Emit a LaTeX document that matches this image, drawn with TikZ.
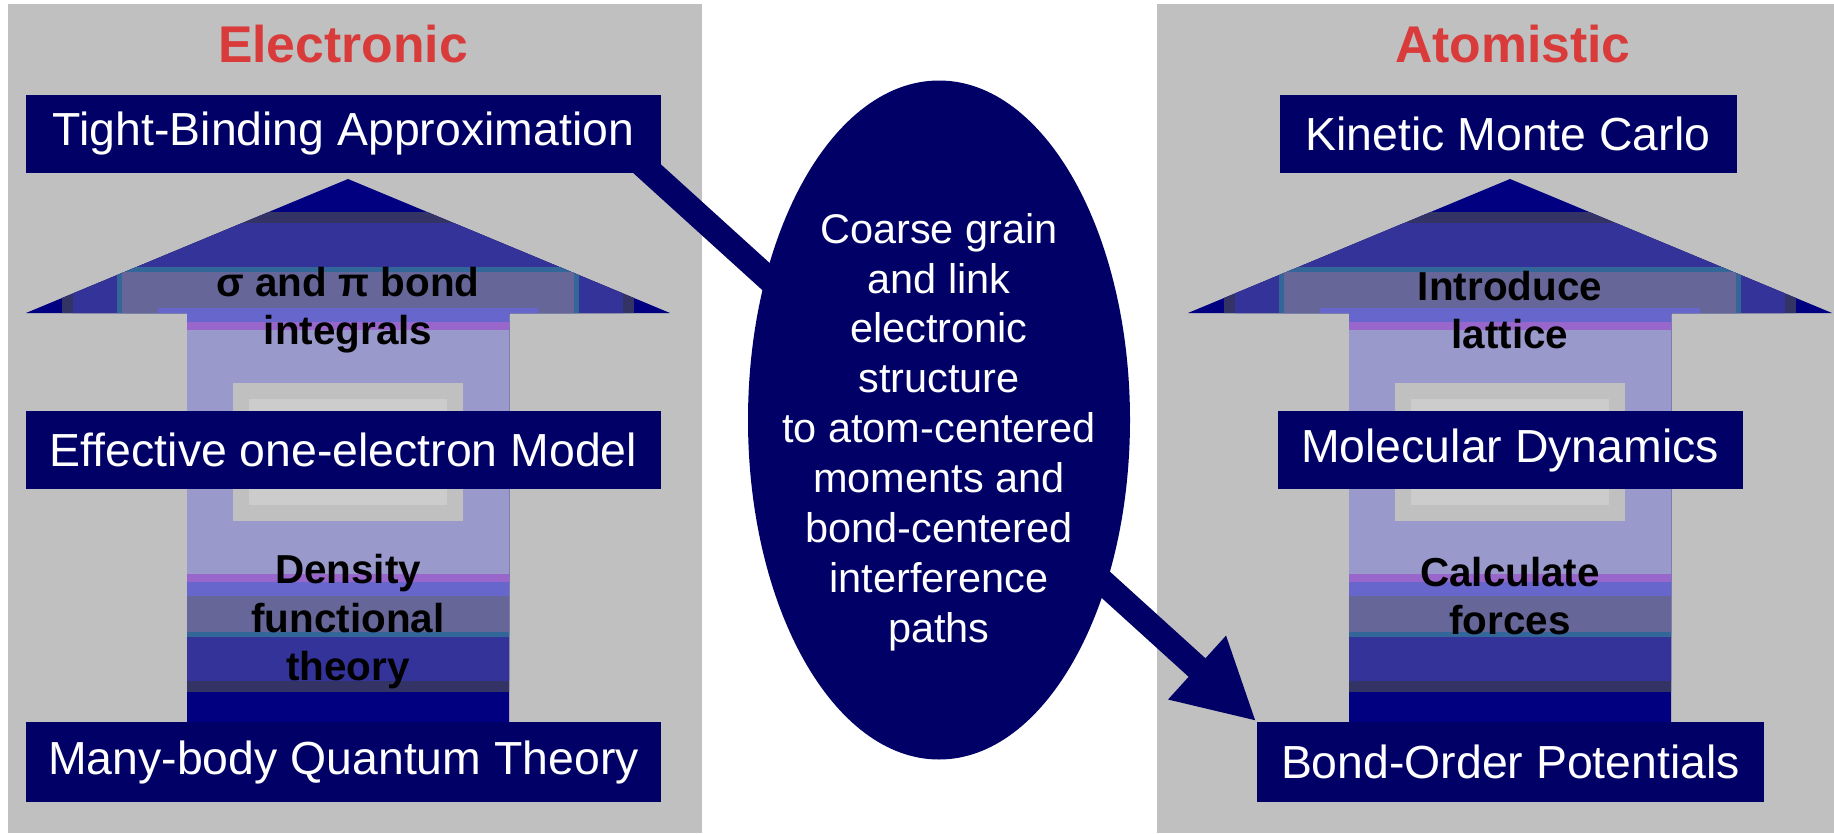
\documentclass[tikz,border=0pt]{standalone}
\usepackage{fontspec}
\setmainfont{Liberation Sans}
\usetikzlibrary{arrows.meta,shapes.geometric}

\definecolor{panelgray}{HTML}{C0C0C0}
\definecolor{boxnavy}{HTML}{000066}
\definecolor{titlered}{HTML}{D93B3B}
\definecolor{band0}{HTML}{000080}
\definecolor{band1}{HTML}{333366}
\definecolor{band2}{HTML}{333399}
\definecolor{band3}{HTML}{336699}
\definecolor{band4}{HTML}{666699}
\definecolor{band5}{HTML}{6666CC}
\definecolor{band6}{HTML}{9966CC}
\definecolor{band7}{HTML}{9999CC}
\definecolor{band8}{HTML}{C0C0C0}
\definecolor{band9}{HTML}{CCCCCC}

\pgfdeclarelayer{back}
\pgfdeclarelayer{mid}
\pgfsetlayers{back,mid,main}

\begin{document}
\begin{tikzpicture}[x=0.1mm, y=-0.1mm,
  model/.style = {rectangle, fill=boxnavy, text=white, inner sep=0pt,
    minimum height=7.8mm, font=\fontsize{13.2}{15}\selectfont},
  title/.style = {text=titlered, anchor=base,
    font=\fontsize{14.7}{17}\selectfont\bfseries},
  stage/.style = {align=center, font=\fontsize{11.5}{13.8}\selectfont\bfseries},
  hub/.style = {ellipse, fill=boxnavy, inner sep=0pt,
    minimum width=38.2mm, minimum height=67.9mm},
  hubtext/.style = {text=white, align=center,
    font=\fontsize{11.8}{14.2}\selectfont},
  link/.style = {draw=boxnavy, line width=2.5mm,
    -{Triangle[length=8mm, width=8mm]}}]

  \useasboundingbox (0,0) rectangle (1834,833);

  \begin{pgfonlayer}{back}
    % grey panels
    \fill[panelgray] (8,4) rectangle (702,833);
    \fill[panelgray] (1157,4) rectangle (1834,833);
    % banded up-arrows
    \foreach \cx in {348,1510} {
      \begin{scope}
        \clip (\cx,179) -- (\cx+322,313) -- (\cx+161,313) -- (\cx+161,730)
          -- (\cx-161,730) -- (\cx-161,313) -- (\cx-322,313) -- cycle;
        \fill[band0] (\cx-322,179) rectangle (\cx+322,730);
        \foreach \ins/\col in {32/band1, 43/band2, 87/band3, 92/band4,
            128/band5, 142/band6, 150/band7, 203/band8, 219/band9}
          \fill[\col] (\cx-318+\ins,180+\ins) rectangle (\cx+318-\ins,724-\ins);
      \end{scope}
    }
  \end{pgfonlayer}

  % titles
  \node[title] (elec) at (343,62) {Electronic};
  \node[title] (atom) at (1513,62) {Atomistic};

  % electronic side
  \node[model, minimum width=63.5mm] (tb)  at (343.5,134) {Tight-Binding Approximation};
  \node[model, minimum width=63.5mm] (eff) at (343.5,450) {Effective one-electron Model};
  \node[model, minimum width=63.5mm, minimum height=8mm] (mbq) at (343.5,762) {Many-body Quantum Theory};
  \node[stage] (sigpi) at (348,310) {σ and π bond\\integrals};
  \node[stage] (dft) at (348,622) {Density\\functional\\theory};

  % atomistic side
  \node[model, minimum width=45.7mm] (kmc) at (1508,134) {Kinetic Monte Carlo};
  \node[model, minimum width=46.5mm] (md)  at (1510,450) {Molecular Dynamics};
  \node[model, minimum width=50.7mm, minimum height=8mm] (bop) at (1510.5,762) {Bond-Order Potentials};
  \node[stage] (lattice) at (1510,310) {Introduce\\lattice};
  \node[stage] (forces) at (1510,596) {Calculate\\forces};

  % coarse graining link
  \node[hub] (coarse) at (939,420) {};
  \node[hubtext] (coarsetxt) at (939,432) {Coarse grain\\and link\\electronic\\structure\\to atom-centered\\moments and\\bond-centered\\interference\\paths};

  \coordinate (tbfoot) at (600,126);
  \begin{pgfonlayer}{mid}
    \draw[link] (tbfoot) -- (bop.north west);
  \end{pgfonlayer}
\end{tikzpicture}
\end{document}
